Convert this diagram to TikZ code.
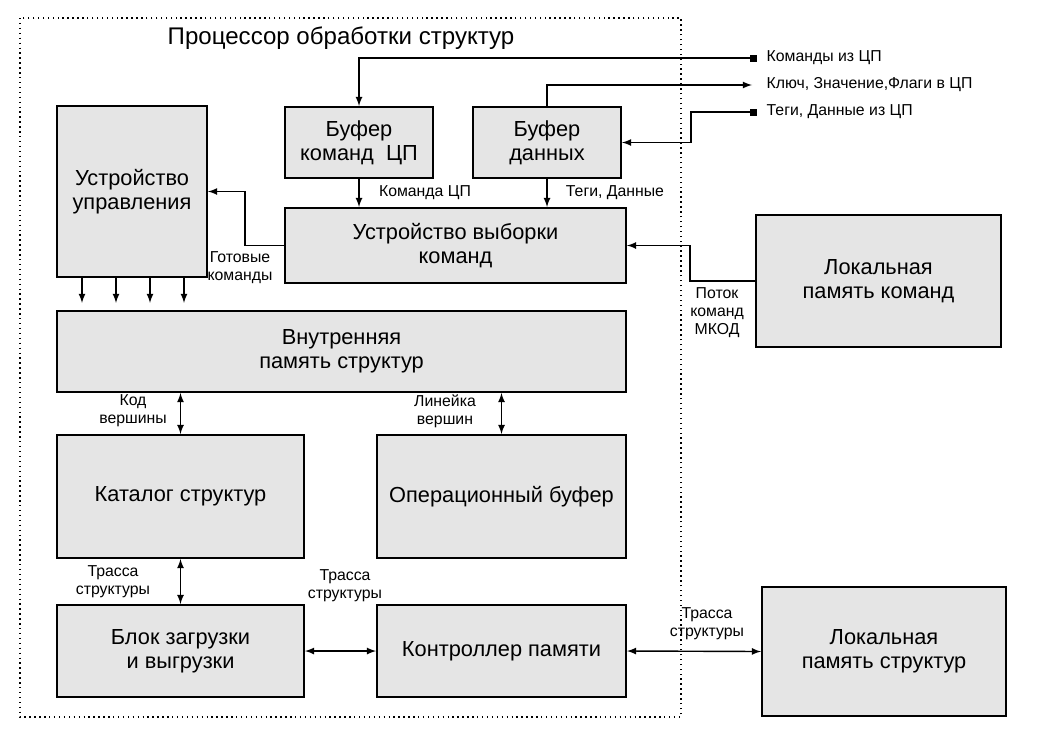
\documentclass[tikz,border=0pt]{standalone}
\usepackage{fontspec}
\setmainfont{Liberation Sans}
\begin{document}
\begin{tikzpicture}
      [x=0.02cm,y=-0.02cm,>=latex,thick,
      block/.style={rectangle,draw,fill=black!10,line width=1.1pt,align=center,
        inner sep=0pt,font=\fontsize{12.4}{13.7}\selectfont},
      lbl/.style={align=center,inner sep=0pt,font=\fontsize{9}{10.2}\selectfont},
      pin/.style={rectangle,fill,inner sep=0pt,minimum size=0.14cm}]
      \useasboundingbox (0,0) rectangle (1040,737);
      \draw[dotted] (20,18) rectangle (681,717);
      \node[font=\fontsize{13.7}{15}\selectfont] (title) at (341,38) {Процессор обработки структур};
      % blocks
      \node[block,minimum width=3cm,minimum height=3.42cm] (upr) at (132,191.5) {Устройство\\управления};
      \node[block,minimum width=2.96cm,minimum height=1.42cm] (bufcmd) at (359,142.5) {Буфер\\команд~~ЦП};
      \node[block,minimum width=2.96cm,minimum height=1.42cm] (bufdat) at (547,142.5) {Буфер\\данных};
      \node[block,minimum width=6.82cm,minimum height=1.5cm] (vyb) at (455.5,245.5) {Устройство выборки\\команд};
      \node[block,minimum width=11.38cm,minimum height=1.62cm] (mem) at (341.5,351.5) {Внутренняя\\память структур};
      \node[block,minimum width=4.94cm,minimum height=2.46cm] (cat) at (180.5,496.5) {Каталог структур};
      \node[block,minimum width=4.98cm,minimum height=2.46cm] (opbuf) at (501.5,496.5) {Операционный буфер};
      \node[block,minimum width=4.94cm,minimum height=1.84cm] (load) at (180.5,651) {Блок загрузки\\и выгрузки};
      \node[block,minimum width=4.98cm,minimum height=1.84cm] (ctrl) at (501.5,651) {Контроллер памяти};
      \node[block,minimum width=4.9cm,minimum height=2.64cm] (lmc) at (878.5,281) {Локальная\\память команд};
      \node[block,minimum width=4.88cm,minimum height=2.58cm] (lms) at (884,651.5) {Локальная\\память структур};
      % external lines
      \node[pin] (pcmd) at (753,58) {};
      \node[pin] (ptag) at (753,112) {};
      \coordinate (kout) at (752,85);
      \node[lbl,anchor=west] (lcmd) at (766,58) {Команды из ЦП};
      \node[lbl,anchor=west] (lkey) at (766,85) {Ключ, Значение,Флаги в ЦП};
      \node[lbl,anchor=west] (ltag) at (766,112) {Теги, Данные из ЦП};
      \draw[->] (pcmd.center) -| (bufcmd.north);
      \draw[->] (bufdat.north) |- (kout);
      \draw[->] (ptag.center) -- (691,112) |- (bufdat.east);
      % inner connections
      \path[->] (bufcmd) edge (bufcmd.south |- vyb.north);
      \path[->] (bufdat) edge (bufdat.south |- vyb.north);
      \node[lbl] (lcmdcp) at (425,193) {Команда ЦП};
      \node[lbl] (ltd) at (615,193) {Теги, Данные};
      \draw[->] (vyb.west) -- (245,245.5) |- (upr.east);
      \node[lbl] (lready) at (240,268) {Готовые\\команды};
      \draw[->] (lmc.west) -- (690,281) |- (vyb.east);
      \node[lbl] (lflow) at (717,313) {Поток\\команд\\МКОД};
      \foreach \x in {82,116,150,184} {
        \coordinate (c\x) at (\x,0);
        \draw[->] (upr.south -| c\x) -- ++(0,25);
      }
      \path[<->] (cat.north |- mem.south) edge (cat.north);
      \node[lbl] (lcode) at (133,411) {Код\\вершины};
      \path[<->] (opbuf.north |- mem.south) edge (opbuf.north);
      \node[lbl] (lline) at (445,411) {Линейка\\вершин};
      \path[<->] (cat.south) edge (load.north);
      \node[lbl] (ltr1) at (113,582) {Трасса\\структуры};
      \path[<->] (load.east) edge (ctrl.west);
      \node[lbl] (ltr2) at (345,586) {Трасса\\структуры};
      \path[<->] (ctrl.east) edge (lms.west);
      \node[lbl] (ltr3) at (707,624) {Трасса\\структуры};
\end{tikzpicture}
\end{document}
